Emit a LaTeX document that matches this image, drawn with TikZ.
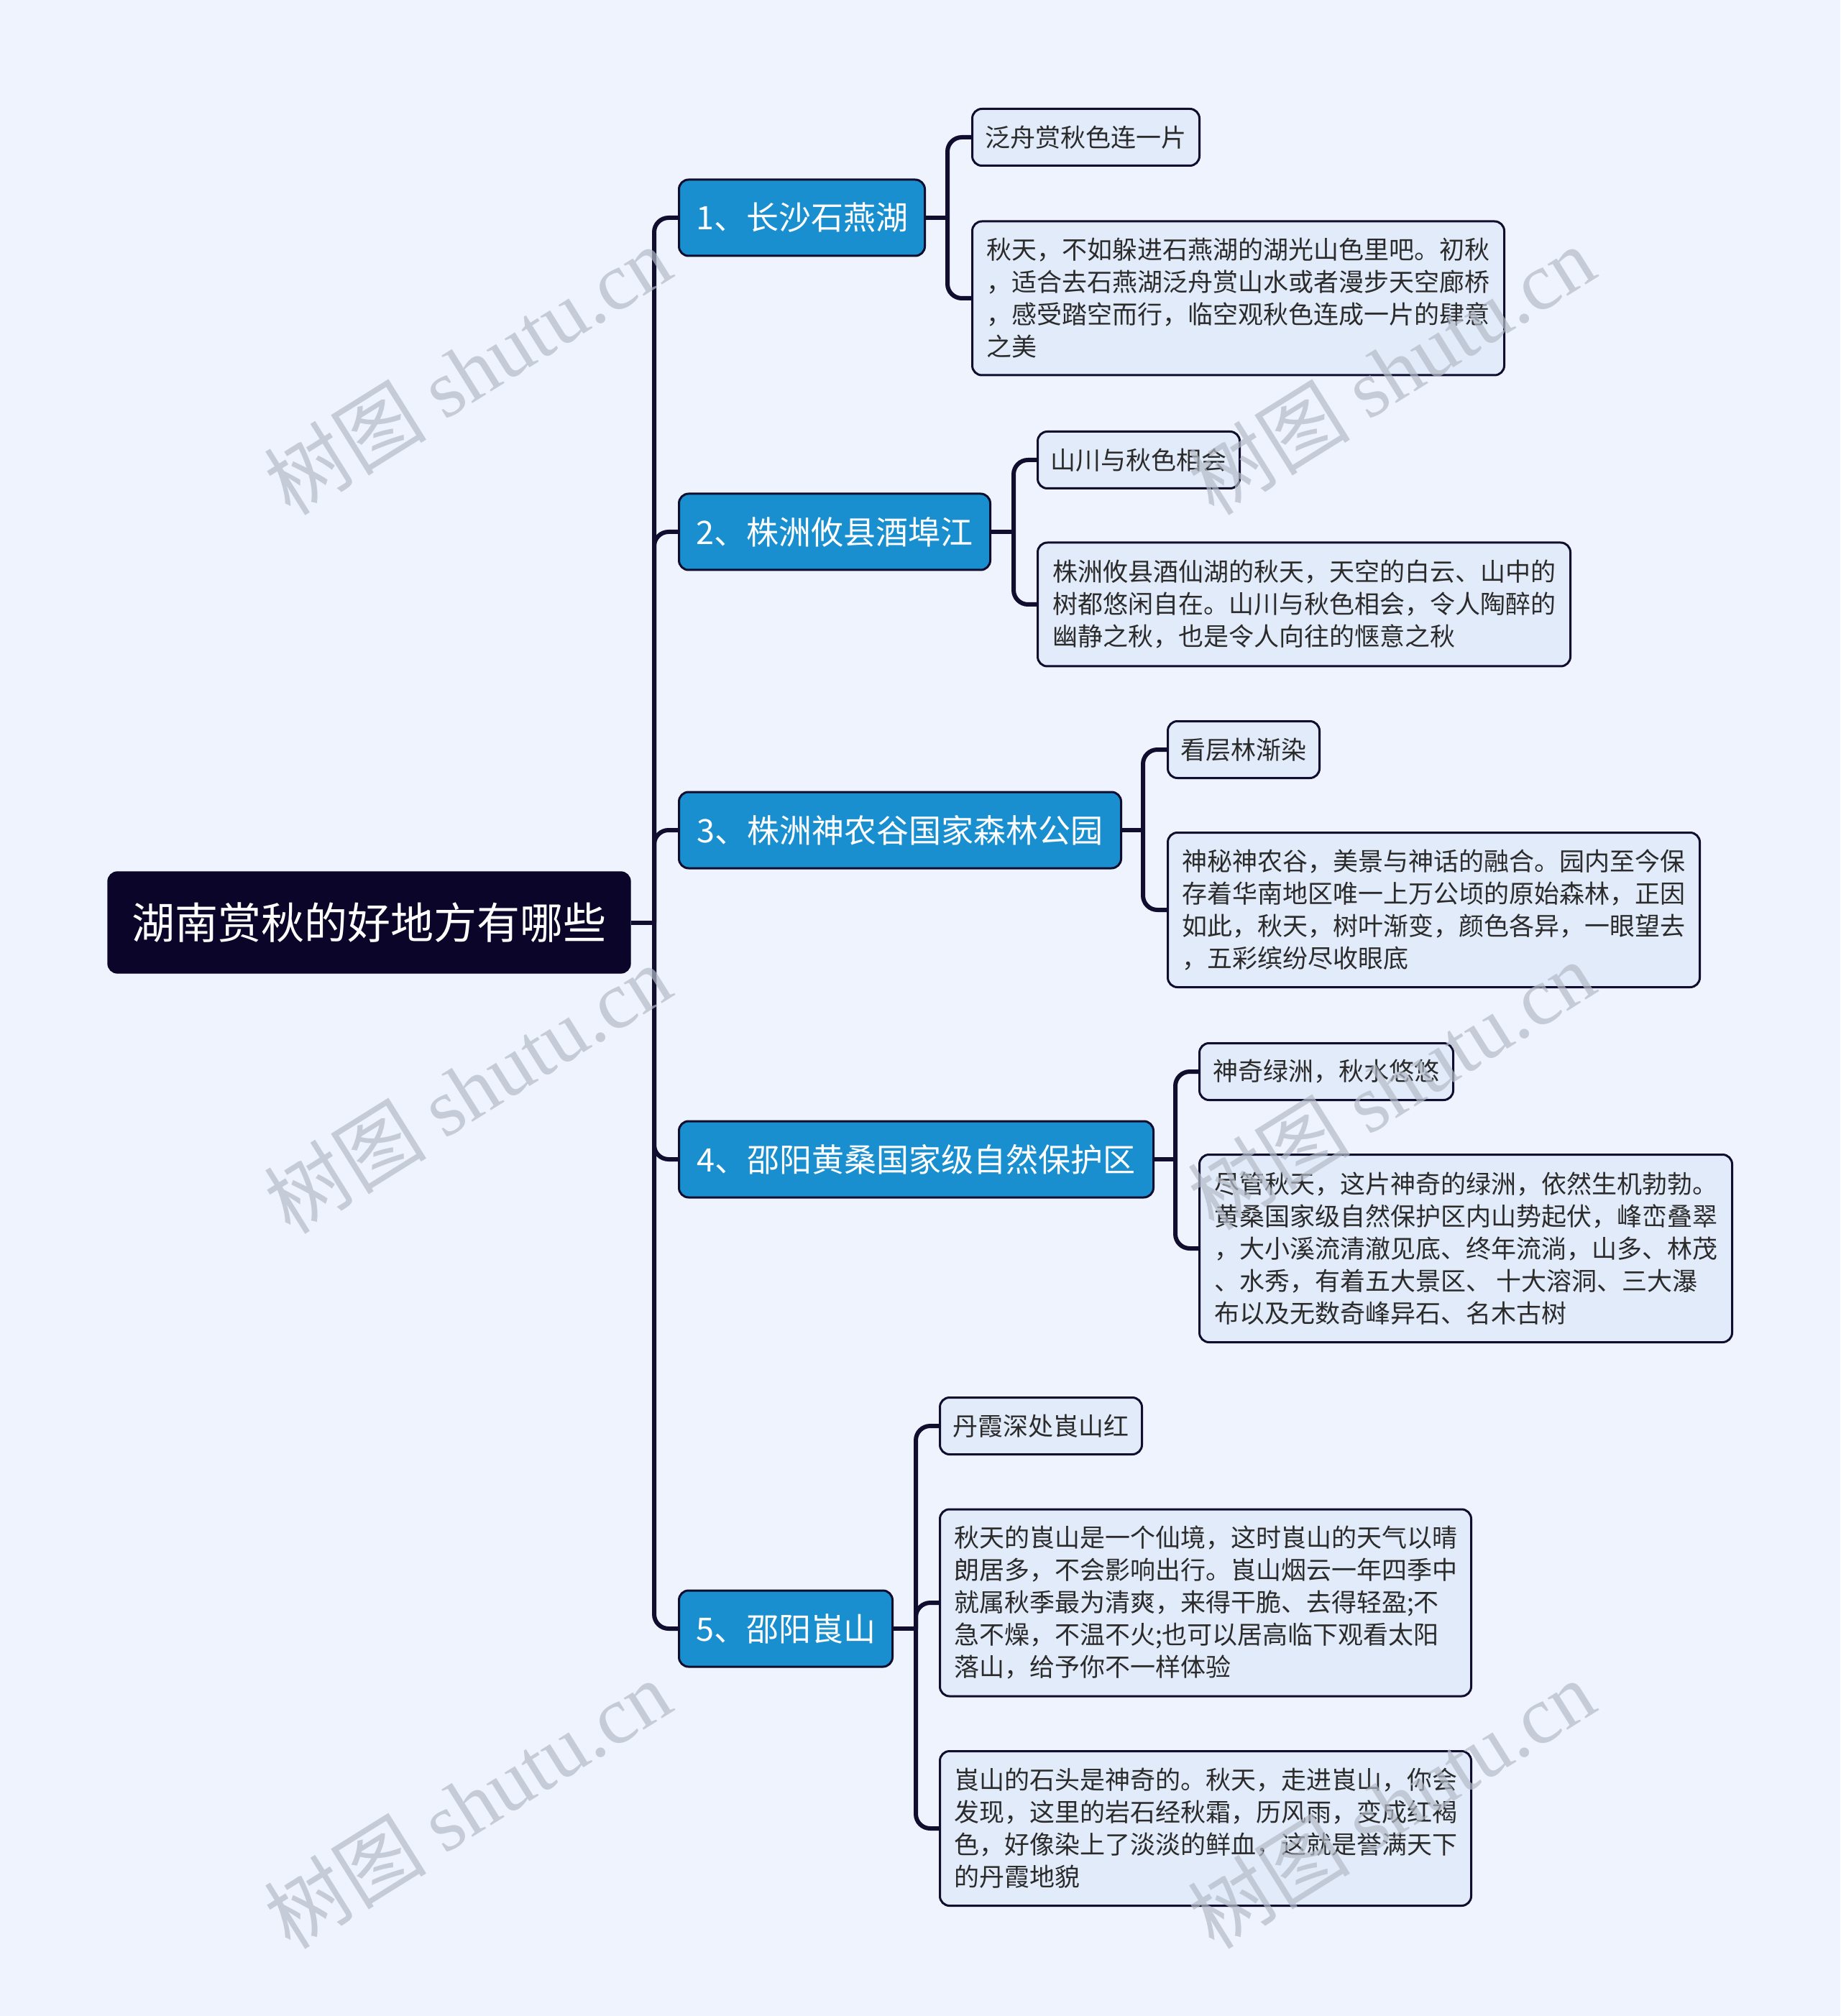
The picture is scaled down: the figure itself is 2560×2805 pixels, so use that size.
\documentclass[tikz,border=0pt]{standalone}
\usepackage{fontspec}
\setmainfont{Noto Sans CJK SC}
\newfontfamily\cjkfont{Noto Sans CJK SC}
\newfontfamily\wmfont{Liberation Serif}
\definecolor{bgc}{HTML}{EEF3FD}
\definecolor{rootc}{HTML}{0B0629}
\definecolor{linec}{HTML}{100D2E}
\definecolor{branchc}{HTML}{1A8FD0}
\definecolor{leafc}{HTML}{E2EBFA}
\definecolor{leaftext}{HTML}{2B2B2B}
\definecolor{wmc}{HTML}{B4BBC8}
\tikzset{
  rootbox/.style={draw=rootc, fill=rootc, rounded corners=4pt, text=white,
    font=\fontsize{18pt}{22pt}\selectfont, minimum width=218.1pt, minimum height=42.3pt, inner sep=0pt},
  branchbox/.style={draw=linec, line width=0.9pt, fill=branchc, rounded corners=4pt, text=white,
    font=\fontsize{13.5pt}{16pt}\selectfont, minimum height=31.8pt, inner sep=0pt, anchor=west},
  leafbox/.style={draw=linec, line width=0.9pt, fill=leafc, rounded corners=4pt, text=leaftext,
    font=\fontsize{10.5pt}{13.5pt}\selectfont, align=left, inner xsep=0pt, inner ysep=5pt,
    minimum height=23.7pt, anchor=west},
  conn/.style={draw=linec, line width=1.8pt, rounded corners=6pt},
  wm/.style={text=wmc, opacity=0.7, rotate=32, font=\fontsize{34pt}{38pt}\selectfont}
}
\begin{document}
\begin{tikzpicture}[x=0.3pt, y=-0.3pt]
\fill[bgc] (0,0) rectangle (2560,2805);
\useasboundingbox (0,0) rectangle (2560,2805);

% root
\node[rootbox] (root) at (513.5,1283.5) {湖南赏秋的好地方有哪些};

% branches
\node[branchbox, minimum width=102.6pt] (b1) at (943,303) {1、长沙石燕湖};
\node[branchbox, minimum width=129.9pt] (b2) at (943,740) {2、株洲攸县酒埠江};
\node[branchbox, minimum width=184.5pt] (b3) at (943,1155) {3、株洲神农谷国家森林公园};
\node[branchbox, minimum width=198pt] (b4) at (943,1613) {4、邵阳黄桑国家级自然保护区};
\node[branchbox, minimum width=89.1pt] (b5) at (943,2266) {5、邵阳崀山};

% leaves
\node[leafbox, minimum width=94.8pt] (l1a) at (1351,191) {泛舟赏秋色连一片};
\node[leafbox, minimum width=222pt, minimum height=64.2pt] (l1b) at (1351,415) {秋天，不如躲进石燕湖的湖光山色里吧。初秋\\，适合去石燕湖泛舟赏山水或者漫步天空廊桥\\，感受踏空而行，临空观秋色连成一片的肆意\\之美};
\node[leafbox, minimum width=84.3pt] (l2a) at (1442,640) {山川与秋色相会};
\node[leafbox, minimum width=222.3pt, minimum height=51.6pt] (l2b) at (1442,841) {株洲攸县酒仙湖的秋天，天空的白云、山中的\\树都悠闲自在。山川与秋色相会，令人陶醉的\\幽静之秋，也是令人向往的惬意之秋};
\node[leafbox, minimum width=63.3pt] (l3a) at (1623,1043) {看层林渐染};
\node[leafbox, minimum width=222pt, minimum height=64.5pt] (l3b) at (1623,1266) {神秘神农谷，美景与神话的融合。园内至今保\\存着华南地区唯一上万公顷的原始森林，正因\\如此，秋天，树叶渐变，颜色各异，一眼望去\\，五彩缤纷尽收眼底};
\node[leafbox, minimum width=105.9pt] (l4a) at (1667,1491) {神奇绿洲，秋水悠悠};
\node[leafbox, minimum width=222.3pt, minimum height=78.3pt] (l4b) at (1667,1737) {尽管秋天，这片神奇的绿洲，依然生机勃勃。\\黄桑国家级自然保护区内山势起伏，峰峦叠翠\\，大小溪流清澈见底、终年流淌，山多、林茂\\、水秀，有着五大景区、 十大溶洞、三大瀑\\布以及无数奇峰异石、名木古树};
\node[leafbox, minimum width=84.3pt] (l5a) at (1306,1984) {丹霞深处崀山红};
\node[leafbox, minimum width=221.7pt, minimum height=78pt] (l5b) at (1306,2230) {秋天的崀山是一个仙境，这时崀山的天气以晴\\朗居多，不会影响出行。崀山烟云一年四季中\\就属秋季最为清爽，来得干脆、去得轻盈;不\\急不燥，不温不火;也可以居高临下观看太阳\\落山，给予你不一样体验};
\node[leafbox, minimum width=221.7pt, minimum height=64.5pt] (l5c) at (1306,2544) {崀山的石头是神奇的。秋天，走进崀山，你会\\发现，这里的岩石经秋霜，历风雨，变成红褐\\色，好像染上了淡淡的鲜血，这就是誉满天下\\的丹霞地貌};

% junctions
\coordinate (tj) at (910,1283.5);
\coordinate (j1) at (1318,303);
\coordinate (j2) at (1410,740);
\coordinate (j3) at (1590,1155);
\coordinate (j4) at (1635,1613);
\coordinate (j5) at (1274,2266);

% connectors
\draw[conn] (root.east) -- (tj);
\foreach \b in {b1,b2,b3,b4,b5} { \draw[conn] (tj) |- (\b.west); }
\draw[conn] (b1.east) -- (j1);
\draw[conn] (j1) |- (l1a.west);
\draw[conn] (j1) |- (l1b.west);
\draw[conn] (b2.east) -- (j2);
\draw[conn] (j2) |- (l2a.west);
\draw[conn] (j2) |- (l2b.west);
\draw[conn] (b3.east) -- (j3);
\draw[conn] (j3) |- (l3a.west);
\draw[conn] (j3) |- (l3b.west);
\draw[conn] (b4.east) -- (j4);
\draw[conn] (j4) |- (l4a.west);
\draw[conn] (j4) |- (l4b.west);
\draw[conn] (b5.east) -- (j5);
\draw[conn] (j5) |- (l5a.west);
\draw[conn] (j5) |- (l5b.west);
\draw[conn] (j5) |- (l5c.west);

% watermarks
\node[wm] (w1) at (650,515) {{\cjkfont 树图} {\wmfont shutu.cn}};
\node[wm] (w2) at (650,1515) {{\cjkfont 树图} {\wmfont shutu.cn}};
\node[wm] (w3) at (650,2510) {{\cjkfont 树图} {\wmfont shutu.cn}};
\node[wm] (w4) at (1935,515) {{\cjkfont 树图} {\wmfont shutu.cn}};
\node[wm] (w5) at (1935,1510) {{\cjkfont 树图} {\wmfont shutu.cn}};
\node[wm] (w6) at (1935,2510) {{\cjkfont 树图} {\wmfont shutu.cn}};
\end{tikzpicture}
\end{document}
